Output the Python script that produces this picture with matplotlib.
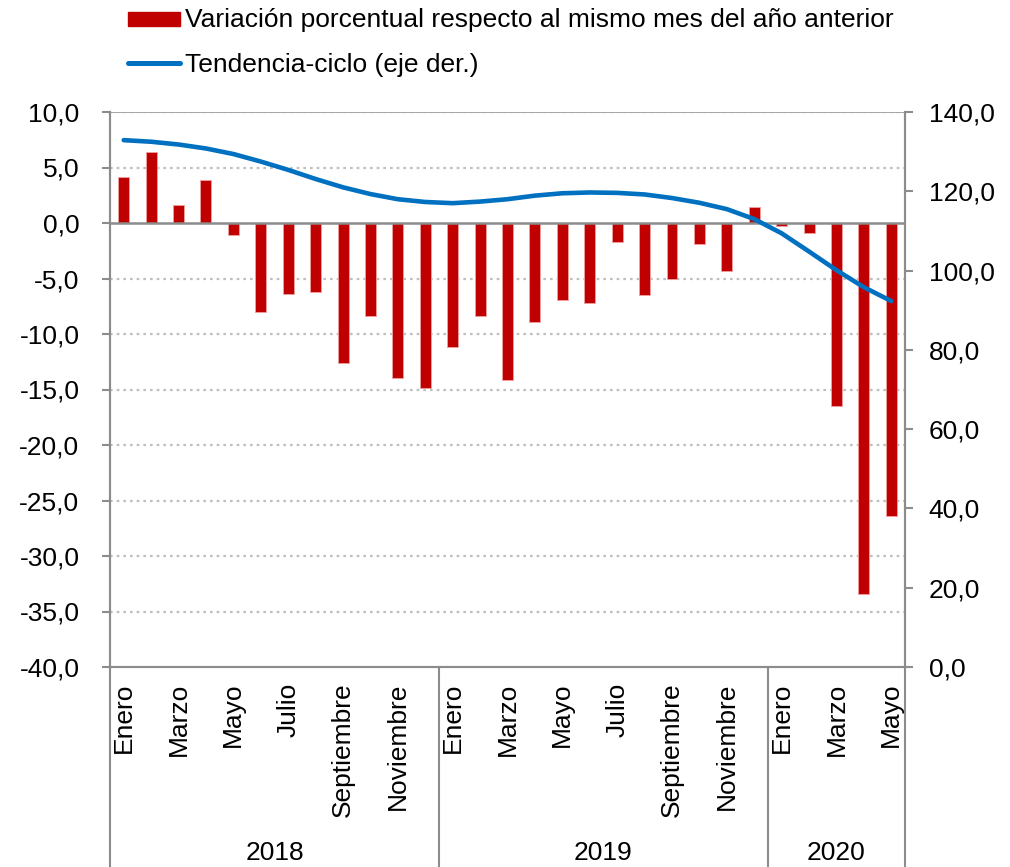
import matplotlib
matplotlib.use("Agg")
import matplotlib.pyplot as plt
from matplotlib.patches import Rectangle
from matplotlib.lines import Line2D

plt.rcParams['font.family'] = ['Liberation Sans', 'DejaVu Sans']

months = ["Enero", "Febrero", "Marzo", "Abril", "Mayo", "Junio", "Julio", "Agosto",
          "Septiembre", "Octubre", "Noviembre", "Diciembre"]
labels = months * 2 + months[:5]
years = ["2018", "2019", "2020"]
year_counts = [12, 12, 5]

variacion = [4.1, 6.4, 1.6, 3.9, -1.1, -8.0, -6.4, -6.2, -12.6, -8.4, -14.0, -14.9,
             -11.2, -8.4, -14.1, -8.9, -6.9, -7.2, -1.7, -6.5, -5.0, -1.9, -4.3, 1.4,
             -0.3, -0.9, -16.5, -33.4, -26.4]
tendencia = [132.9, 132.5, 131.8, 130.8, 129.4, 127.5, 125.4, 123.1, 121.0, 119.3, 118.0, 117.3,
             117.0, 117.4, 118.0, 118.9, 119.5, 119.7, 119.6, 119.2, 118.3, 117.1, 115.5, 113.0,
             109.4, 104.8, 100.1, 95.8, 92.3]

legend_bar = "Variación porcentual respecto al mismo mes del año anterior"
legend_line = "Tendencia-ciclo (eje der.)"

RED = "#C00000"
BLUE = "#0070C0"
GRAY = "#8C8C8C"
FS = 19

W, H = 1010, 867
fig = plt.figure(figsize=(W / 100, H / 100), dpi=100)
ax = fig.add_axes([110 / W, 1 - 667 / H, (905 - 110) / W, (667 - 112) / H])
ax2 = ax.twinx()

n = len(variacion)
x = list(range(n))
ax.bar(x, variacion, width=0.4, color=RED, edgecolor="#F0A0A0", linewidth=0.6, zorder=3)
ax2.plot(x, tendencia, color=BLUE, linewidth=3.3, solid_capstyle='round', zorder=4)

ax.set_xlim(-0.5, n - 0.5)
ax.set_ylim(-40, 10)
ax2.set_ylim(0, 140)
ax.set_yticks(range(-40, 11, 5))
ax2.set_yticks(range(0, 141, 20))
fmt = lambda v: f"{v:.1f}".replace(".", ",")
ax.set_yticklabels([fmt(v) for v in range(-40, 11, 5)])
ax2.set_yticklabels([fmt(v) for v in range(0, 141, 20)])

ax.tick_params(axis='y', labelsize=FS, length=6, width=1.5, color=GRAY, pad=16)
ax2.tick_params(axis='y', labelsize=FS, length=6, width=1.5, color=GRAY, pad=11)
for a in (ax, ax2):
    for s in a.spines.values():
        s.set_color(GRAY)
        s.set_linewidth(1.5)
    a.spines['top'].set_visible(False)
ax.set_xticks([])

for v in range(-35, 11, 5):
    if v == 0:
        continue
    ax.axhline(v, color="#BFBFBF", linestyle=(0, (1.2, 1.8)), linewidth=1.6, zorder=1)
ax.axhline(10, color="#A6A6A6", linewidth=1.4, zorder=1)
ax.axhline(0, color=GRAY, linewidth=1.8, zorder=4)

tr = ax.get_xaxis_transform()
for i, lab in enumerate(labels):
    if i % 2 == 0:
        ax.text(i, -0.028, lab, rotation=90, ha='center', va='top', fontsize=FS,
                transform=tr)

# year separators and labels
start = 0
bounds = [-0.5]
for yname, cnt in zip(years, year_counts):
    end = start + cnt
    bounds.append(end - 0.5)
    ax.text((start + end - 1) / 2, -(853 - 667) / 555, yname, ha='center', va='center',
            fontsize=FS, transform=tr)
    start = end
for b in bounds:
    ax.add_line(Line2D([b, b], [0, -0.37], transform=tr, color=GRAY, linewidth=1.5,
                       clip_on=False))

# legend
fig.patches.append(Rectangle((128 / W, 1 - 26 / H), 52 / W, 14 / H, transform=fig.transFigure,
                             color=RED))
fig.lines.append(Line2D([128 / W, 180 / W], [1 - 63 / H, 1 - 63 / H], transform=fig.transFigure,
                        color=BLUE, linewidth=3.6, solid_capstyle='round'))
fig.text(185 / W, 1 - 27 / H, legend_bar, ha='left', va='baseline', fontsize=FS)
fig.text(185 / W, 1 - 72 / H, legend_line, ha='left', va='baseline', fontsize=FS)

fig.savefig("out.png", dpi=100)
